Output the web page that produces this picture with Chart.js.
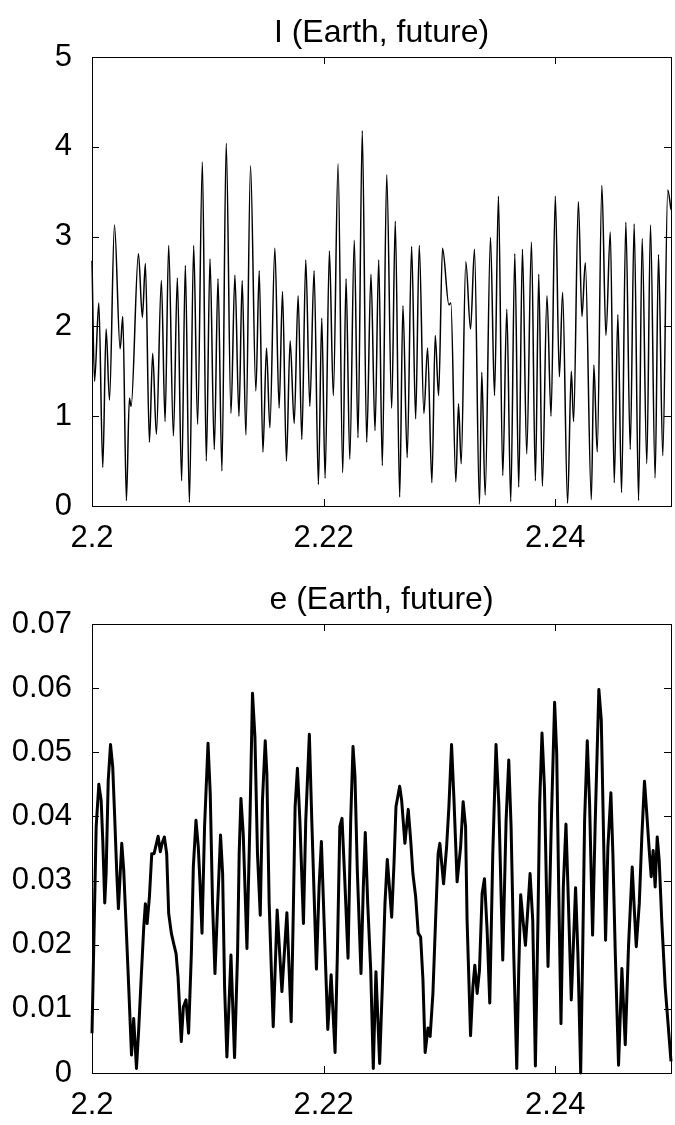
<!DOCTYPE html>
<html>
<head>
<meta charset="utf-8">
<script src="https://cdn.jsdelivr.net/npm/chart.js@4.4.1/dist/chart.umd.min.js"></script>
<style>
  html, body { margin: 0; padding: 0; background: #fff; }
  body { width: 675px; height: 1125px; position: relative; overflow: hidden; }
  .panel { position: absolute; left: 0; width: 675px; }
  .ttl { position: absolute; left: 92px; width: 579px; text-align: center;
         font-family: "Liberation Sans", Arial, sans-serif; font-size: 32px;
         line-height: 38px; color: #000; white-space: nowrap; }
  canvas { position: absolute; left: 0; top: 0; }
</style>
</head>
<body>
<div class="panel" id="p1" style="top:0;height:565px;">
  <canvas id="c1" width="675" height="565"></canvas>
  <div class="ttl" style="top:12px;">I (Earth, future)</div>
</div>
<div class="panel" id="p2" style="top:565px;height:560px;">
  <canvas id="c2" width="675" height="560"></canvas>
  <div class="ttl" style="top:14px;">e (Earth, future)</div>
</div>
<script>
// ---- data ----
const xTicks = [2.2, 2.22, 2.24];
const iTicks = [0, 1, 2, 3, 4, 5];
const eTicks = [0, 0.01, 0.02, 0.03, 0.04, 0.05, 0.06, 0.07];

const iX = [2.2, 2.20022, 2.20059, 2.20093, 2.20122, 2.20151, 2.20194, 2.20243, 2.20266, 2.20297,
  2.20323, 2.20338, 2.20401, 2.20435, 2.20461, 2.20496, 2.20524, 2.20556, 2.20599, 2.20631,
  2.20662, 2.20703, 2.20737, 2.20774, 2.20806, 2.20841, 2.20878, 2.20912, 2.20953, 2.20987,
  2.21019, 2.21056, 2.21088, 2.21122, 2.21159, 2.212, 2.21234, 2.21269, 2.21297, 2.21329,
  2.21369, 2.21415, 2.21444, 2.21476, 2.21507, 2.21536, 2.21579, 2.21616, 2.21645, 2.21679,
  2.21711, 2.21746, 2.2178, 2.21812, 2.21846, 2.21881, 2.21918, 2.21955, 2.21984, 2.22013,
  2.2205, 2.22084, 2.22125, 2.22165, 2.22194, 2.22226, 2.22265, 2.22297, 2.22334, 2.22372,
  2.22409, 2.22444, 2.22476, 2.22507, 2.22545, 2.22588, 2.22619, 2.22657, 2.22685, 2.22722,
  2.2276, 2.22795, 2.22826, 2.22866, 2.22898, 2.22935, 2.22964, 2.22993, 2.23027, 2.23082,
  2.23099, 2.23142, 2.23165, 2.23188, 2.23228, 2.23269, 2.23303, 2.23346, 2.23366, 2.23395,
  2.23441, 2.23476, 2.2351, 2.23547, 2.23582, 2.23616, 2.23651, 2.23685, 2.23717, 2.23754,
  2.23795, 2.23829, 2.23858, 2.23889, 2.23929, 2.23964, 2.24001, 2.24036, 2.24064, 2.24107,
  2.24139, 2.24159, 2.242, 2.24231, 2.2426, 2.24312, 2.24334, 2.24363, 2.24403, 2.24438,
  2.24476, 2.2451, 2.24541, 2.24573, 2.2461, 2.24648, 2.24682, 2.2472, 2.24751, 2.24791,
  2.24823, 2.24863, 2.24892, 2.24929, 2.24972, 2.25];
const iY = [2.73, 1.39, 2.26, 0.43, 1.97, 1.18, 3.13, 1.75, 2.11, 0.06,
  1.2, 1.11, 2.81, 2.10, 2.70, 0.71, 1.70, 0.80, 2.51, 0.94,
  2.90, 0.78, 2.54, 0.28, 2.68, 0.04, 2.90, 0.91, 3.83, 0.50,
  2.75, 0.63, 2.53, 0.39, 4.04, 1.03, 2.57, 1.00, 2.51, 0.79,
  3.79, 1.28, 2.62, 0.60, 1.76, 0.87, 2.87, 1.09, 2.39, 0.50,
  1.84, 0.92, 2.34, 0.74, 2.74, 1.11, 2.62, 0.24, 2.09, 0.31,
  2.84, 1.23, 3.81, 0.37, 2.53, 0.52, 2.96, 0.76, 4.18, 0.71,
  2.58, 0.84, 2.74, 0.45, 3.69, 1.09, 3.17, 0.10, 2.23, 0.54,
  2.89, 0.97, 2.90, 1.03, 1.76, 0.26, 1.90, 1.23, 2.87, 2.24,
  2.26, 0.27, 1.14, 0.47, 2.72, 1.97, 2.86, 0.02, 1.49, 0.12,
  2.99, 1.23, 3.45, 0.34, 2.19, 0.05, 2.81, 0.21, 2.86, 0.58,
  2.94, 0.28, 2.58, 0.22, 2.34, 1.00, 3.45, 1.44, 2.38, 0.03,
  1.50, 0.94, 3.39, 2.11, 2.71, 0.07, 1.57, 0.60, 3.57, 1.90,
  3.05, 0.26, 2.13, 0.15, 3.16, 0.63, 3.14, 0.06, 2.98, 0.47,
  3.13, 0.31, 2.80, 0.56, 3.52, 3.3];

const eX = [2.2, 2.20036, 2.20059, 2.20079, 2.20093, 2.2011, 2.20122, 2.2014, 2.2016, 2.20179,
  2.20197, 2.20214, 2.20228, 2.20257, 2.20274, 2.20295, 2.20317, 2.20341, 2.2036, 2.20384,
  2.20403, 2.20424, 2.20447, 2.20461, 2.20476, 2.20496, 2.20516, 2.20536, 2.20571, 2.2059,
  2.20605, 2.20625, 2.20645, 2.20662, 2.20685, 2.20705, 2.20726, 2.20743, 2.20771, 2.20789,
  2.20812, 2.20834, 2.20858, 2.20875, 2.20898, 2.20918, 2.20933, 2.2095, 2.20972, 2.21002,
  2.21021, 2.21041, 2.21062, 2.21082, 2.2111, 2.21128, 2.21145, 2.21165, 2.212, 2.21231,
  2.21257, 2.21271, 2.21286, 2.21306, 2.21338, 2.21364, 2.21386, 2.21407, 2.21429, 2.21453,
  2.21472, 2.21496, 2.2151, 2.2153, 2.21565, 2.21599, 2.2164, 2.21683, 2.2172, 2.21737,
  2.21754, 2.21774, 2.21795, 2.21826, 2.21846, 2.21877, 2.21898, 2.21938, 2.21961, 2.21981,
  2.22004, 2.22036, 2.22065, 2.22099, 2.22119, 2.2214, 2.22159, 2.22183, 2.22211, 2.22234,
  2.22254, 2.22271, 2.22291, 2.22323, 2.22343, 2.2236, 2.22381, 2.22407, 2.22429, 2.22452,
  2.22484, 2.22507, 2.2253, 2.2255, 2.22588, 2.22608, 2.22625, 2.22657, 2.22674, 2.22702,
  2.22731, 2.22752, 2.22771, 2.22795, 2.22817, 2.22838, 2.22858, 2.22877, 2.22901, 2.2292,
  2.22944, 2.22967, 2.22989, 2.23004, 2.23036, 2.23062, 2.23082, 2.23105, 2.23125, 2.23153,
  2.23183, 2.23205, 2.23226, 2.23239, 2.23269, 2.23289, 2.23306, 2.23326, 2.23346, 2.23369,
  2.23389, 2.23412, 2.23435, 2.23461, 2.23489, 2.23513, 2.23547, 2.23576, 2.23599, 2.23619,
  2.23642, 2.23668, 2.23685, 2.23702, 2.23722, 2.23743, 2.23763, 2.23783, 2.23806, 2.23829,
  2.23851, 2.23866, 2.23886, 2.23907, 2.23938, 2.23967, 2.23995, 2.24013, 2.2403, 2.2405,
  2.2407, 2.24093, 2.2411, 2.24139, 2.24176, 2.24196, 2.2422, 2.24237, 2.24254, 2.24277,
  2.24297, 2.24323, 2.24346, 2.24377, 2.24398, 2.24415, 2.24435, 2.24455, 2.24481, 2.24498,
  2.24519, 2.24547, 2.24576, 2.24605, 2.24633, 2.24665, 2.24682, 2.247, 2.24726, 2.24748,
  2.24771, 2.24791, 2.24812, 2.24829, 2.24846, 2.24863, 2.24881, 2.24898, 2.2492, 2.2495,
  2.25];
const eY = [0.0062, 0.0384, 0.0450, 0.0425, 0.0363, 0.0265, 0.0311, 0.0456, 0.0512, 0.0477,
  0.0394, 0.0311, 0.0256, 0.0358, 0.0316, 0.0228, 0.0134, 0.0028, 0.0085, 0.0007,
  0.0067, 0.0145, 0.0228, 0.0264, 0.0233, 0.0275, 0.0342, 0.0342, 0.0369, 0.0345,
  0.0358, 0.0368, 0.0342, 0.0249, 0.0218, 0.0202, 0.0186, 0.0150, 0.0049, 0.0103,
  0.0114, 0.0062, 0.0186, 0.0321, 0.0394, 0.0352, 0.0295, 0.0218, 0.0384, 0.0514,
  0.0436, 0.0264, 0.0155, 0.0249, 0.0371, 0.0311, 0.0134, 0.0025, 0.0184, 0.0024,
  0.0186, 0.0342, 0.0428, 0.0373, 0.0194, 0.0394, 0.0592, 0.0524, 0.0342, 0.0246,
  0.0425, 0.0518, 0.0467, 0.0264, 0.0072, 0.0254, 0.0127, 0.0250, 0.0080, 0.0238,
  0.0415, 0.0475, 0.0394, 0.0233, 0.0394, 0.0528, 0.0394, 0.0162, 0.0290, 0.0361,
  0.0238, 0.0068, 0.0153, 0.0032, 0.0186, 0.0384, 0.0397, 0.0301, 0.0179, 0.0394,
  0.0509, 0.0462, 0.0316, 0.0155, 0.0290, 0.0375, 0.0264, 0.0160, 0.0007, 0.0158,
  0.0015, 0.0134, 0.0264, 0.0333, 0.0243, 0.0327, 0.0415, 0.0447, 0.0425, 0.0358,
  0.0411, 0.0363, 0.0311, 0.0275, 0.0218, 0.0212, 0.0145, 0.0032, 0.0070, 0.0057,
  0.0124, 0.0238, 0.0342, 0.0358, 0.0295, 0.0352, 0.0415, 0.0512, 0.0430, 0.0298,
  0.0352, 0.0423, 0.0384, 0.0238, 0.0058, 0.0134, 0.0168, 0.0124, 0.0160, 0.0280,
  0.0303, 0.0223, 0.0109, 0.0342, 0.0512, 0.0420, 0.0176, 0.0394, 0.0488, 0.0384,
  0.0186, 0.0007, 0.0160, 0.0278, 0.0238, 0.0199, 0.0254, 0.0311, 0.0238, 0.0011,
  0.0238, 0.0420, 0.0530, 0.0446, 0.0166, 0.0394, 0.0578, 0.0498, 0.0290, 0.0077,
  0.0290, 0.0388, 0.0290, 0.0114, 0.0289, 0.0186, 0.0000, 0.0186, 0.0394, 0.0518,
  0.0420, 0.0215, 0.0394, 0.0598, 0.0550, 0.0394, 0.0207, 0.0352, 0.0437, 0.0342,
  0.0186, 0.0012, 0.0163, 0.0044, 0.0197, 0.0321, 0.0259, 0.0197, 0.0264, 0.0368,
  0.0455, 0.0404, 0.0347, 0.0306, 0.0347, 0.0290, 0.0368, 0.0332, 0.0238, 0.0134,
  0.0018];

// ---- drawing ----
const FONT = '"Liberation Sans", Arial, sans-serif';

const frameTicks = {
  id: 'frameTicks',
  afterDraw(chart) {
    const {ctx, chartArea: a, scales} = chart;
    const L = 7;
    ctx.save();
    ctx.strokeStyle = '#000';
    ctx.lineWidth = 1;
    ctx.beginPath();
    scales.x.ticks.forEach(t => {
      const px = Math.round(scales.x.getPixelForValue(t.value)) + 0.5;
      ctx.moveTo(px, a.bottom); ctx.lineTo(px, a.bottom - L);
      ctx.moveTo(px, a.top); ctx.lineTo(px, a.top + L);
    });
    scales.y.ticks.forEach(t => {
      const py = Math.round(scales.y.getPixelForValue(t.value)) + 0.5;
      ctx.moveTo(a.left, py); ctx.lineTo(a.left + L, py);
      ctx.moveTo(a.right, py); ctx.lineTo(a.right - L, py);
    });
    ctx.stroke();
    ctx.strokeRect(Math.round(a.left) + 0.5, Math.round(a.top) + 0.5,
                   Math.round(a.right - a.left), Math.round(a.bottom - a.top));
    ctx.restore();
  }
};

function makeChart(id, xs, ys, yMin, yMax, yTickVals, opts) {
  const pts = xs.map((x, i) => ({x: x, y: ys[i]}));
  return new Chart(document.getElementById(id), {
    type: 'line',
    data: { datasets: [{
      data: pts,
      borderColor: '#000',
      borderWidth: opts.lineWidth,
      pointRadius: 0,
      fill: false,
      tension: opts.tension,
      cubicInterpolationMode: opts.mode,
      borderJoinStyle: 'round',
      clip: 2
    }]},
    options: {
      responsive: false,
      animation: false,
      events: [],
      layout: { padding: { left: 0, right: 4, top: opts.top, bottom: 0 } },
      plugins: { legend: { display: false }, tooltip: { enabled: false }, title: { display: false } },
      scales: {
        x: {
          type: 'linear', min: 2.2, max: 2.25,
          afterBuildTicks: s => { s.ticks = xTicks.map(v => ({value: v})); },
          afterFit: s => { s.height = opts.xh; },
          ticks: { autoSkip: false, maxRotation: 0, padding: 14, color: '#000',
                   font: { family: FONT, size: 31 }, callback: v => String(v) },
          grid: { display: false, drawTicks: false },
          border: { display: false }
        },
        y: {
          type: 'linear', min: yMin, max: yMax,
          afterBuildTicks: s => { s.ticks = yTickVals.map(v => ({value: v})); },
          afterFit: s => { s.width = 92; },
          ticks: { padding: 20, color: '#000', font: { family: FONT, size: 31 },
                   callback: v => String(v) },
          grid: { display: false, drawTicks: false },
          border: { display: false }
        }
      }
    },
    plugins: [frameTicks]
  });
}

makeChart('c1', iX, iY, 0, 5, iTicks, { lineWidth: 1.5, tension: 0.4, mode: 'monotone', top: 57, xh: 59 });
makeChart('c2', eX, eY, 0, 0.07, eTicks, { lineWidth: 3, tension: 0, mode: 'default', top: 59, xh: 52 });
</script>
</body>
</html>
